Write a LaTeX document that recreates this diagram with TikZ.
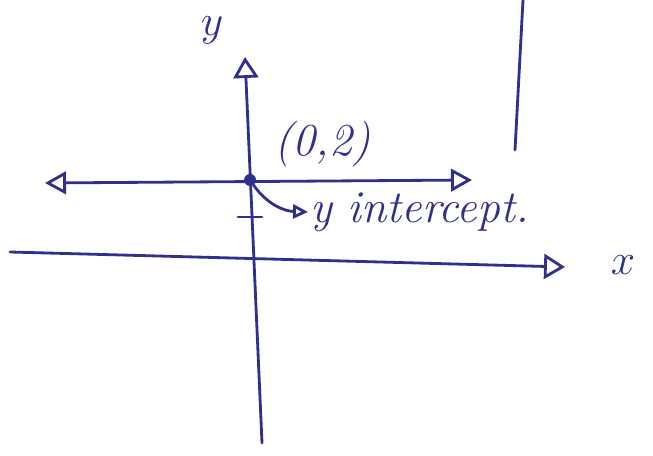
\documentclass[tikz,border=0pt]{standalone}
\usepackage{amsmath}
\usepackage{tikz}
\usetikzlibrary{
  arrows.meta,
  positioning
}
\usepackage{xcolor}
\definecolor{ink}{RGB}{48,48,140}
\tikzset{
  pen/.style={
    draw=ink, line width=1.6pt, line cap=round
  },
  axis arrow/.style={
    pen, -{Triangle[open, length=0.42cm, width=0.5cm]}
  },
  both arrow/.style={
    pen, {Triangle[open, length=0.42cm, width=0.45cm]}-{Triangle[open, length=0.42cm, width=0.45cm]}
  },
  pointer arrow/.style={
    pen, -{Triangle[open, length=0.3cm, width=0.28cm]}
  },
  hand label/.style={
    text=ink, inner sep=1pt,
    font=\fontsize{26}{30}\selectfont\itshape
  },
  dot/.style={
    circle, fill=ink, inner sep=0pt, minimum size=0.24cm
  },
}
\begin{document}
\begin{tikzpicture}

  \useasboundingbox (0,0) rectangle (13.06,9.10);

  % axes
  \coordinate (ybot)  at (5.24,0.24);
  \coordinate (ytop)  at (4.90,7.96);
  \coordinate (xleft) at (0.20,4.06);
  \coordinate (xright) at (11.30,3.76);

  \node[hand label] (ylab) at (4.24,8.50) {$y$};
  \node[hand label] (xlab) at (12.46,3.80) {$x$};

  \draw[axis arrow] (ybot) -- (ytop);
  \draw[axis arrow] (xleft) -- (xright);

  % the line y = 2
  \coordinate (hleft)  at (0.90,5.44);
  \coordinate (hright) at (9.44,5.50);
  \draw[both arrow] (hleft) -- (hright);
  \node[dot] (pt) at (5.00,5.50) {};

  \node[hand label, above right=0.12cm and 0.36cm of pt] (ptlab) {(0,2)};
  \node[hand label, anchor=west] (intercept) at (6.16,4.86) {y intercept.};
  \draw[pointer arrow] (pt) to[out=-55, in=178] (intercept.west);

  % tick at y = 1
  \coordinate (tickl) at (4.76,4.76);
  \coordinate (tickr) at (5.24,4.76);
  \draw[pen] (tickl) -- (tickr);

  % stray stroke on the right
  \coordinate (vtop) at (10.46,9.10);
  \coordinate (vbot) at (10.30,6.10);
  \draw[pen] (vtop) -- (vbot);

\end{tikzpicture}
\end{document}
